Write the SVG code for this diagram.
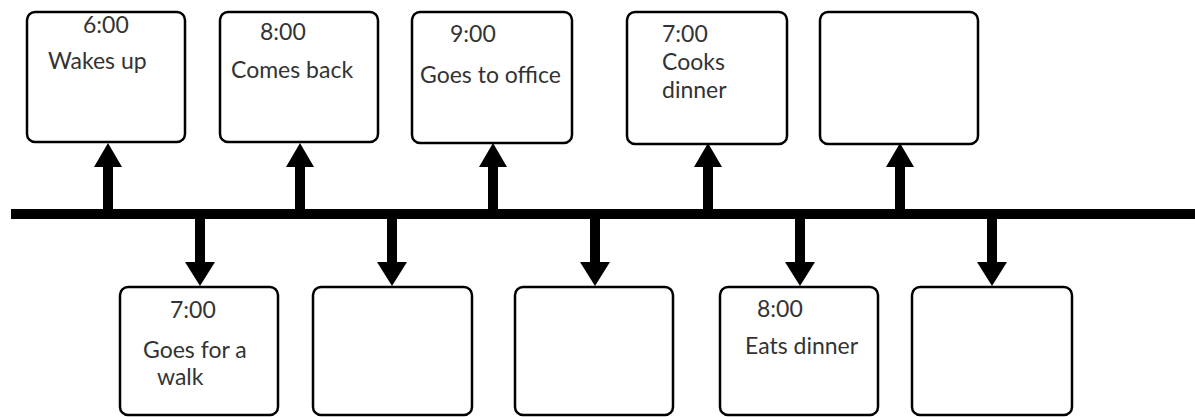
<svg xmlns="http://www.w3.org/2000/svg" width="1195" height="417" viewBox="0 0 1195 417">
<style>
.box{fill:#fff;stroke:#000;stroke-width:2.5}
.t{font-family:Lato,"Liberation Sans",sans-serif;font-size:23px;fill:#333}
.ar{fill:#000}
</style>
<rect width="1195" height="417" fill="#fff"/>
<g id="connectors">
<rect x="11" y="209" width="1184" height="10" fill="#000"/>
<polygon class="ar" points="103,214 103,167 94,167 108,143 122,167 113,167 113,214"/>
<polygon class="ar" points="295,214 295,167 286,167 300,143 314,167 305,167 305,214"/>
<polygon class="ar" points="488,214 488,167 479,167 493,143 507,167 498,167 498,214"/>
<polygon class="ar" points="703,214 703,167 694,167 708,143 722,167 713,167 713,214"/>
<polygon class="ar" points="895,214 895,167 886,167 900,143 914,167 905,167 905,214"/>
<polygon class="ar" points="195,214 195,262 185,262 200,286 215,262 205,262 205,214"/>
<polygon class="ar" points="387,214 387,262 377,262 392,286 407,262 397,262 397,214"/>
<polygon class="ar" points="590,214 590,262 580,262 595,286 610,262 600,262 600,214"/>
<polygon class="ar" points="795,214 795,262 785,262 800,286 815,262 805,262 805,214"/>
<polygon class="ar" points="987,214 987,262 977,262 992,286 1007,262 997,262 997,214"/>
</g>
<g id="n1"><rect class="box" x="27" y="12" width="158" height="130" rx="8"/><text class="t" x="83" y="33">6:00</text><text class="t" x="48" y="69">Wakes up</text></g>
<g id="n2"><rect class="box" x="220" y="12" width="158" height="130" rx="8"/><text class="t" x="260" y="40">8:00</text><text class="t" x="231" y="78">Comes back</text></g>
<g id="n3"><rect class="box" x="412" y="12" width="160" height="131" rx="8"/><text class="t" x="450" y="42">9:00</text><text class="t" x="420" y="83">Goes to office</text></g>
<g id="n4"><rect class="box" x="627" y="12" width="160" height="132" rx="8"/><text class="t" x="662" y="42">7:00</text><text class="t" x="662" y="70">Cooks</text><text class="t" x="662" y="98">dinner</text></g>
<g id="n5"><rect class="box" x="820" y="12" width="158" height="132" rx="8"/></g>
<g id="n6"><rect class="box" x="120" y="287" width="158" height="128" rx="8"/><text class="t" x="170" y="318">7:00</text><text class="t" x="143" y="358">Goes for a</text><text class="t" x="157" y="385">walk</text></g>
<g id="n7"><rect class="box" x="313" y="287" width="159" height="128" rx="8"/></g>
<g id="n8"><rect class="box" x="515" y="287" width="158" height="128" rx="8"/></g>
<g id="n9"><rect class="box" x="720" y="287" width="158" height="128" rx="8"/><text class="t" x="757" y="317">8:00</text><text class="t" x="745" y="354">Eats dinner</text></g>
<g id="n10"><rect class="box" x="912" y="287" width="160" height="128" rx="8"/></g>
</svg>
